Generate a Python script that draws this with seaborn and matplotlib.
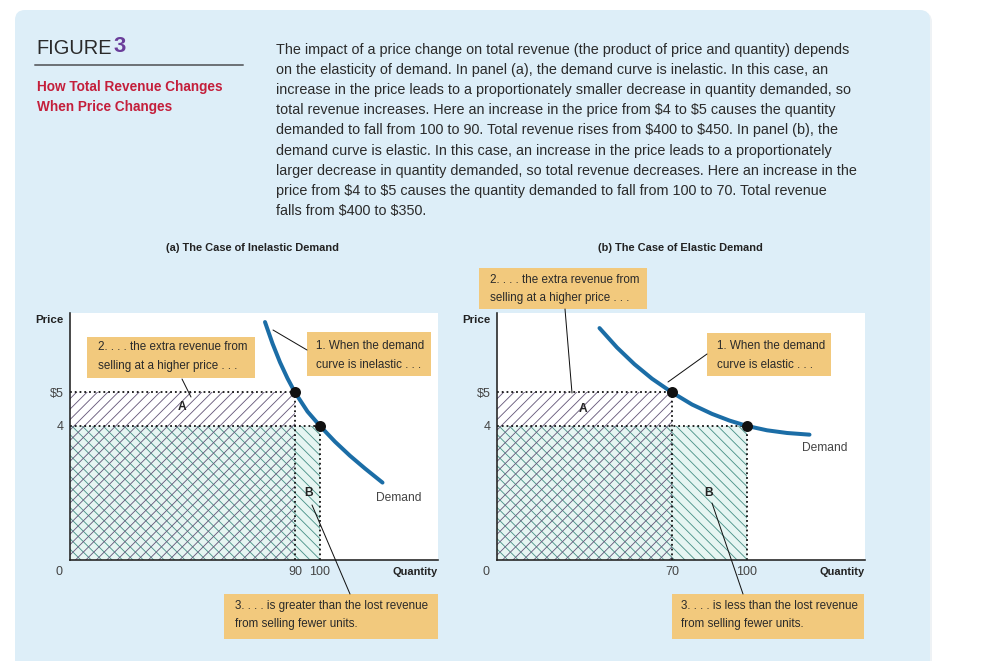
import seaborn as sns
import matplotlib.pyplot as plt
from matplotlib.patches import Rectangle, FancyBboxPatch

sns.set_theme(style="white")
plt.rcParams["font.family"] = ["Liberation Sans", "DejaVu Sans"]
plt.rcParams["hatch.linewidth"] = 0.5

DPI = 125
W, H = 986, 661
PT = 72 / DPI  # pixel -> point

# ---- values ----
# panel (a): inelastic demand curve
inel_q = [78, 81, 84, 87, 90, 95, 100, 106, 112, 118, 125]
inel_p = [7.1, 6.46, 5.9, 5.42, 5.0, 4.43, 4.0, 3.53, 3.11, 2.73, 2.31]
inel_pts_q = [90, 100]
inel_pts_p = [5, 4]
inel_xticks = [90, 100]

# panel (b): elastic demand curve
el_q = [41, 48, 55, 62, 70, 78, 86, 93, 100, 108, 116, 125]
el_p = [6.92, 6.34, 5.84, 5.41, 5.0, 4.64, 4.36, 4.16, 4.0, 3.87, 3.79, 3.74]
el_pts_q = [70, 100]
el_pts_p = [5, 4]
el_xticks = [70, 100]

price_ticks = [4, 5]
price_labels = ["4", "$5"]

body_lines = [
    "The impact of a price change on total revenue (the product of price and quantity) depends",
    "on the elasticity of demand. In panel (a), the demand curve is inelastic. In this case, an",
    "increase in the price leads to a proportionately smaller decrease in quantity demanded, so",
    "total revenue increases. Here an increase in the price from $4 to $5 causes the quantity",
    "demanded to fall from 100 to 90. Total revenue rises from $400 to $450. In panel (b), the",
    "demand curve is elastic. In this case, an increase in the price leads to a proportionately",
    "larger decrease in quantity demanded, so total revenue decreases. Here an increase in the",
    "price from $4 to $5 causes the quantity demanded to fall from 100 to 70. Total revenue",
    "falls from $400 to $350.",
]

CURVE = "#1b6da6"
BOX = "#f2c97d"
BG = "#ddeef8"
HATCH_A = "#66587a"
HATCH_B = "#4a9288"
FILL_B = "#e6f5f2"

fig = plt.figure(figsize=(W / DPI, H / DPI), dpi=DPI, facecolor="white")

# background overlay (pixel coordinates)
bg = fig.add_axes([0, 0, 1, 1], zorder=0)
bg.set_xlim(0, W)
bg.set_ylim(H, 0)
bg.axis("off")
bg.add_patch(FancyBboxPatch((17, 12), 915, 680, boxstyle="round,pad=0,rounding_size=10",
                            fc="#eef2f5", ec="none"))
bg.add_patch(FancyBboxPatch((15, 10), 915, 680, boxstyle="round,pad=0,rounding_size=10",
                            fc=BG, ec="none"))

# header
bg.text(36, 48, "FIGURE", fontsize=20 * PT, color="#2a2a2a", va="center")
bg.text(114, 47, "3", fontsize=22 * PT, color="#6a3d9a", va="center", weight="bold")
bg.plot([35, 243], [65, 65], color="#6e7378", lw=2 * PT)
bg.text(37, 87, "How Total Revenue Changes", fontsize=13.6 * PT, color="#c41f3b",
        weight="bold", va="center")
bg.text(37, 107, "When Price Changes", fontsize=13.6 * PT, color="#c41f3b",
        weight="bold", va="center")
for i, line in enumerate(body_lines):
    bg.text(276, 50 + 20.1 * i, line, fontsize=14.4 * PT, color="#2b2b2b", va="center",
            parse_math=False)

bg.text(253, 248, "(a) The Case of Inelastic Demand", fontsize=11 * PT, weight="bold",
        color="#222222", ha="center", va="center")
bg.text(680, 248, "(b) The Case of Elastic Demand", fontsize=11 * PT, weight="bold",
        color="#222222", ha="center", va="center")

XMAX, YMAX = 147.2, 7.37


def draw_panel(left_px, q, p, pts_q, pts_p, xticks, a_xy, b_xy, dem_xy):
    ax = fig.add_axes([left_px / W, (H - 560) / H, 368 / W, 247 / H], zorder=5)
    ax.set_facecolor("white")
    ax.set_xlim(0, XMAX)
    ax.set_ylim(0, YMAX)
    q_hi, q_lo = pts_q
    p_hi, p_lo = pts_p

    # revenue areas: lower-price rectangle and higher-price rectangle
    ax.fill_between([0, q_lo], 0, p_lo, facecolor=FILL_B, edgecolor=HATCH_B,
                    hatch="\\\\\\\\", lw=0, zorder=1)
    ax.fill_between([0, q_hi], 0, p_hi, facecolor="none", edgecolor=HATCH_A,
                    hatch="////", lw=0, zorder=2)

    # dotted guide lines
    for qq, pp in zip(pts_q, pts_p):
        ax.plot([0, qq], [pp, pp], ls=":", color="#111111", lw=1.8 * PT, zorder=3)
        ax.plot([qq, qq], [0, pp], ls=":", color="#111111", lw=1.8 * PT, zorder=3)

    sns.lineplot(x=q, y=p, sort=False, color=CURVE, lw=4 * PT, ax=ax, zorder=4)
    sns.scatterplot(x=pts_q, y=pts_p, color="#111111", s=(11 * PT) ** 2, ax=ax,
                    zorder=5, linewidth=0)

    for side in ["top", "right"]:
        ax.spines[side].set_visible(False)
    for side in ["left", "bottom"]:
        ax.spines[side].set_color("#222222")
        ax.spines[side].set_linewidth(1.6 * PT)
        ax.spines[side].set_zorder(6)

    ax.set_xticks(xticks)
    ax.set_xticklabels([str(t) for t in xticks])
    ax.set_yticks(price_ticks)
    ax.set_yticklabels(price_labels)
    ax.tick_params(length=0, labelsize=12.5 * PT, labelcolor="#444444", pad=3.5)
    ax.set_xlabel("")
    ax.set_ylabel("")

    ax.text(-3, -0.37, "0", fontsize=12.5 * PT, color="#444444", ha="right", va="center")
    ax.text(-2.5, 7.15, "Price", fontsize=11.5 * PT, weight="bold", color="#222222",
            ha="right", va="center")
    ax.text(XMAX, -0.37, "Quantity", fontsize=11 * PT, weight="bold", color="#222222",
            ha="right", va="center")
    ax.text(*a_xy, "A", fontsize=12 * PT, weight="bold", color="#222222",
            ha="center", va="center", zorder=7)
    ax.text(*b_xy, "B", fontsize=12 * PT, weight="bold", color="#222222",
            ha="center", va="center", zorder=7)
    ax.text(*dem_xy, "Demand", fontsize=12 * PT, color="#444444",
            ha="center", va="center")
    return ax


ax_a = draw_panel(70, inel_q, inel_p, inel_pts_q, inel_pts_p, inel_xticks,
                  (45, 4.57), (95.6, 2.0), (131.5, 1.85))
ax_b = draw_panel(497, el_q, el_p, el_pts_q, el_pts_p, el_xticks,
                  (34.4, 4.5), (84.8, 2.0), (131, 3.34))

# callout boxes and leader lines on top (pixel coordinates)
fg = fig.add_axes([0, 0, 1, 1], zorder=10)
fg.set_xlim(0, W)
fg.set_ylim(H, 0)
fg.axis("off")
fg.patch.set_alpha(0)

callouts = [
    # box x0, y0, x1, y1, text x, first line y, lines
    (87, 337, 255, 378, 98, 347, ["2. . . . the extra revenue from", "selling at a higher price . . ."]),
    (307, 332, 431, 376, 316, 346, ["1. When the demand", "curve is inelastic . . ."]),
    (224, 594, 438, 639, 235, 606, ["3. . . . is greater than the lost revenue", "from selling fewer units."]),
    (479, 268, 647, 309, 490, 280, ["2. . . . the extra revenue from", "selling at a higher price . . ."]),
    (707, 333, 831, 376, 717, 346, ["1. When the demand", "curve is elastic . . ."]),
    (672, 594, 864, 639, 681, 606, ["3. . . . is less than the lost revenue", "from selling fewer units."]),
]
leaders = [
    ((182, 379), (191, 397)),
    ((307, 350), (273, 330)),
    ((350, 594), (312, 505)),
    ((565, 309), (572, 393)),
    ((707, 354), (668, 382)),
    ((743, 594), (712, 503)),
]
for (a, b) in leaders:
    fg.plot([a[0], b[0]], [a[1], b[1]], color="#111111", lw=1.0 * PT)
for x0, y0, x1, y1, tx, ty, lines in callouts:
    fg.add_patch(Rectangle((x0, y0), x1 - x0, y1 - y0, fc=BOX, ec="none"))
    for k, line in enumerate(lines):
        fg.text(tx, ty + 18.5 * k, line, fontsize=11.6 * PT, color="#2a2a2a", va="center")

fig.savefig("out.png", dpi=DPI, facecolor="white")
